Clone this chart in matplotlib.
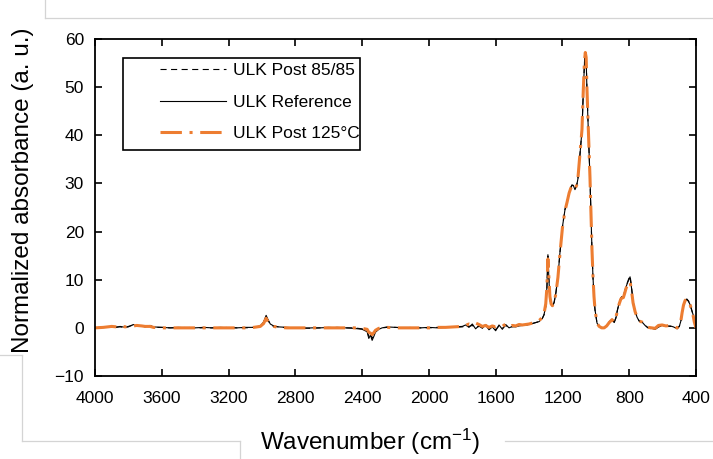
import matplotlib
matplotlib.use('Agg')
import matplotlib.pyplot as plt
from matplotlib.lines import Line2D
from matplotlib.patches import Rectangle

plt.rcParams['font.family'] = ['Liberation Sans', 'DejaVu Sans']
plt.rcParams['mathtext.default'] = 'regular'

# ── FTIR spectra (wavenumber in cm-1, normalized absorbance in a. u.) ──
wavenumber = [
    4000, 3950, 3900, 3870, 3850, 3820, 3800, 3770, 3750, 3720,
    3700, 3670, 3650, 3600, 3550, 3500, 3450, 3400, 3350, 3300,
    3250, 3200, 3150, 3100, 3050, 3010, 2990, 2975, 2965, 2950,
    2930, 2900, 2850, 2800, 2750, 2700, 2650, 2600, 2550, 2500,
    2450, 2400, 2370, 2360, 2350, 2340, 2330, 2320, 2300, 2280,
    2250, 2200, 2150, 2100, 2050, 2000, 1950, 1900, 1850, 1800,
    1780, 1760, 1740, 1720, 1700, 1680, 1660, 1640, 1620, 1600,
    1580, 1560, 1540, 1520, 1500, 1480, 1460, 1440, 1420, 1400,
    1380, 1360, 1340, 1320, 1310, 1300, 1293, 1287, 1281, 1275,
    1268, 1260, 1250, 1239, 1227, 1215, 1200, 1185, 1173, 1160,
    1150, 1143, 1135, 1125, 1115, 1107, 1095, 1083, 1075, 1068,
    1063, 1058, 1053, 1047, 1041, 1035, 1029, 1023, 1017, 1011,
    1005, 993, 980, 965, 950, 935, 920, 903, 890, 880,
    870, 860, 850, 843, 835, 827, 819, 810, 802, 795,
    787, 777, 765, 753, 740, 723, 705, 687, 665, 645,
    625, 603, 580, 555, 535, 513, 500, 490, 483, 475,
    465, 455, 445, 435, 425, 417, 410, 400,
]

ulk_reference = [
    0.0, 0.1, 0.2, 0.1, 0.3, 0.1, 0.2, 0.7, 0.3, 0.4,
    0.2, 0.5, 0.2, 0.1, 0.0, 0.1, 0.0, 0.0, 0.1, 0.0,
    0.1, 0.0, 0.0, 0.1, 0.1, 0.4, 1.2, 2.6, 1.8, 0.8,
    0.4, 0.2, 0.1, 0.0, -0.1, 0.0, 0.0, 0.1, 0.0, 0.0,
    -0.1, -0.3, -0.8, -2.2, -1.5, -2.6, -1.8, -0.9, -0.3, 0.0,
    0.2, 0.1, 0.0, 0.0, 0.0, 0.1, 0.0, 0.1, 0.2, 0.3,
    0.6, 0.1, 0.8, -0.2, 0.5, -0.1, 0.7, -0.4, 0.2, -0.6,
    0.6, -0.3, 0.7, 0.0, 0.3, 0.2, 0.4, 0.5, 0.6, 0.7,
    0.9, 1.1, 1.3, 2.0, 2.8, 4.5, 8.5, 15.2, 10.0, 6.0,
    4.8, 4.5, 5.2, 7.3, 10.6, 15.6, 21.0, 24.5, 26.2, 28.0,
    29.2, 29.7, 29.6, 28.7, 29.5, 31.0, 36.0, 41.0, 49.0, 55.0,
    57.2, 56.0, 49.0, 43.0, 37.0, 31.0, 23.5, 16.0, 10.5, 6.4,
    3.8, 1.0, 0.3, 0.0, 0.0, 0.4, 1.2, 1.8, 1.1, 2.0,
    3.8, 5.2, 6.2, 6.5, 6.5, 7.5, 8.5, 9.4, 10.0, 10.6,
    8.5, 5.4, 3.5, 2.2, 1.4, 1.2, 0.5, 0.0, -0.1, -0.3,
    0.2, 0.5, 0.3, 0.4, 0.2, -0.2, 0.3, 1.5, 3.0, 4.5,
    5.5, 5.9, 5.5, 4.8, 3.6, 2.7, 1.5, 0.0,
]

ulk_post_8585 = [
    0.0, 0.2, 0.1, 0.2, 0.2, 0.1, 0.3, 0.6, 0.4, 0.3,
    0.3, 0.4, 0.1, 0.1, 0.0, 0.0, 0.1, 0.0, 0.0, 0.0,
    0.0, 0.1, 0.0, 0.0, 0.1, 0.3, 1.1, 2.4, 1.7, 0.7,
    0.3, 0.2, 0.0, 0.0, 0.0, -0.1, 0.0, 0.0, 0.1, 0.0,
    0.0, -0.2, -0.6, -1.8, -1.2, -2.2, -1.5, -0.7, -0.2, 0.0,
    0.1, 0.1, 0.0, 0.1, 0.0, 0.0, 0.1, 0.1, 0.1, 0.2,
    0.4, 0.3, 0.5, 0.0, 0.3, 0.1, 0.4, -0.2, 0.3, -0.4,
    0.4, -0.1, 0.5, 0.1, 0.2, 0.3, 0.3, 0.5, 0.6, 0.7,
    0.9, 1.1, 1.3, 2.0, 2.7, 4.4, 8.2, 14.9, 9.8, 6.0,
    4.9, 4.6, 5.3, 7.4, 10.7, 15.6, 21.0, 24.6, 26.3, 28.0,
    29.1, 29.6, 29.5, 28.8, 29.6, 31.1, 36.0, 41.0, 49.2, 55.2,
    57.3, 56.1, 49.2, 43.1, 37.0, 31.0, 23.4, 15.9, 10.4, 6.3,
    3.7, 1.0, 0.3, 0.0, 0.0, 0.4, 1.2, 1.8, 1.2, 2.1,
    3.8, 5.1, 6.2, 6.6, 6.6, 7.6, 8.6, 9.5, 10.3, 10.8,
    8.8, 5.5, 3.5, 2.2, 1.4, 1.2, 0.5, 0.0, -0.2, -0.3,
    0.2, 0.4, 0.4, 0.3, 0.3, -0.1, 0.3, 1.5, 3.1, 4.6,
    5.6, 6.0, 5.6, 4.8, 3.6, 2.6, 1.4, -0.2,
]

ulk_post_125 = [
    0.0, 0.1, 0.3, 0.2, 0.5, 0.2, 0.3, 0.4, 0.5, 0.4,
    0.3, 0.3, 0.1, 0.0, 0.0, 0.0, 0.0, 0.0, 0.0, 0.0,
    0.0, 0.0, 0.0, 0.0, 0.1, 0.3, 0.9, 2.0, 1.4, 0.6,
    0.3, 0.1, 0.0, 0.0, 0.0, 0.0, 0.0, 0.0, 0.0, 0.0,
    0.0, -0.1, -0.3, -0.9, -1.1, -1.4, -1.0, -0.5, -0.1, 0.0,
    0.1, 0.0, 0.0, 0.0, 0.0, 0.0, 0.1, 0.1, 0.2, 0.3,
    0.5, 0.8, 0.6, 1.0, 0.7, 0.3, 0.5, 0.1, 0.4, 0.2,
    0.5, 0.3, 0.8, 0.2, 0.5, 0.4, 0.7, 0.6, 0.7, 0.8,
    1.0, 1.2, 1.5, 2.2, 3.0, 5.0, 8.5, 14.3, 10.5, 6.5,
    5.0, 4.6, 5.2, 7.2, 10.5, 15.4, 20.8, 24.3, 26.0, 28.0,
    29.0, 29.5, 29.4, 28.9, 29.6, 31.2, 36.2, 41.2, 49.5, 55.5,
    57.2, 56.2, 49.5, 43.2, 37.2, 31.2, 23.6, 16.2, 10.7, 6.5,
    3.8, 1.0, 0.3, 0.0, 0.0, 0.4, 1.1, 1.7, 1.2, 2.1,
    3.7, 5.0, 6.0, 6.2, 6.3, 7.2, 8.2, 9.0, 9.5, 9.6,
    8.0, 5.2, 3.4, 2.2, 1.4, 1.2, 0.6, 0.1, 0.0, -0.1,
    0.5, 0.6, 0.4, 0.5, 0.3, 0.0, 0.4, 1.6, 3.2, 4.7,
    5.7, 6.0, 5.6, 4.8, 3.5, 2.5, 1.2, 0.0,
]

x_ticks = [4000, 3600, 3200, 2800, 2400, 2000, 1600, 1200, 800, 400]
y_ticks = [-10, 0, 10, 20, 30, 40, 50, 60]

ORANGE = '#ED7D31'
W, H = 713, 459


def px(x, y):
    """pixel position (from top-left) -> figure fraction"""
    return x / W, 1 - y / H


fig = plt.figure(figsize=(W / 100, H / 100), dpi=100)
fig.patch.set_facecolor('white')

# faint layout frame lines around the chart
for (x0, y0), (x1, y1) in [((45, 0), (45, 18)), ((45, 18), (713, 18)),
                           ((0, 355), (22, 355)), ((22, 355), (22, 441)),
                           ((22, 441), (240, 441)), ((240, 441), (240, 459)),
                           ((505, 441), (713, 441))]:
    a, b = px(x0, y0)
    c, d = px(x1, y1)
    fig.add_artist(Line2D([a, c], [b, d], color='#d4d4d4', lw=0.9,
                          transform=fig.transFigure))

l, t = px(95, 39)
r, b = px(696, 376)
ax = fig.add_axes([l, b, r - l, t - b])

h85, = ax.plot(wavenumber, ulk_post_8585, color='black', lw=0.8,
               linestyle=(0, (5.5, 4)), label='ULK Post 85/85')
href, = ax.plot(wavenumber, ulk_reference, color='black', lw=0.8,
                label='ULK Reference')
h125, = ax.plot(wavenumber, ulk_post_125, color=ORANGE, lw=2.2,
                linestyle=(0, (7, 2.5, 1, 2.5)), label='ULK Post 125°C')

ax.set_xlim(4000, 400)
ax.set_ylim(-10, 60)
ax.set_xticks(x_ticks)
ax.set_yticks(y_ticks)
ax.tick_params(direction='in', length=5, width=1.2, labelsize=12.5,
               top=True, right=True)
ax.tick_params(axis='x', pad=11)
ax.tick_params(axis='y', pad=8)
for sp in ax.spines.values():
    sp.set_linewidth(1.3)

ax.set_xlabel('Wavenumber (cm$^{-1}$)', fontsize=17.5, labelpad=14.5)
ax.set_ylabel('Normalized absorbance (a. u.)', fontsize=17.5, labelpad=15)
ax.xaxis.label.set_x((370 - 95) / 601)
ax.yaxis.label.set_y((376 - 190) / 337)

# legend box
fx0, fy0 = 123, 58
fx1, fy1 = 360, 150
lx0 = (fx0 - 95) / 601
lx1 = (fx1 - 95) / 601
ly0 = (376 - fy1) / 337
ly1 = (376 - fy0) / 337
ax.add_patch(Rectangle((lx0, ly0), lx1 - lx0, ly1 - ly0, transform=ax.transAxes,
                       fill=True, facecolor='white', edgecolor='black', lw=1.2,
                       zorder=4))
leg = ax.legend(handles=[h85, href, h125], loc='upper left',
                bbox_to_anchor=((160 - 95) / 601, (376 - 63) / 337),
                frameon=False, fontsize=12.5, handlelength=3.8,
                handletextpad=0.4, labelspacing=0.95, borderpad=0,
                borderaxespad=0)
leg.set_zorder(5)

fig.savefig('out.png', dpi=100)
